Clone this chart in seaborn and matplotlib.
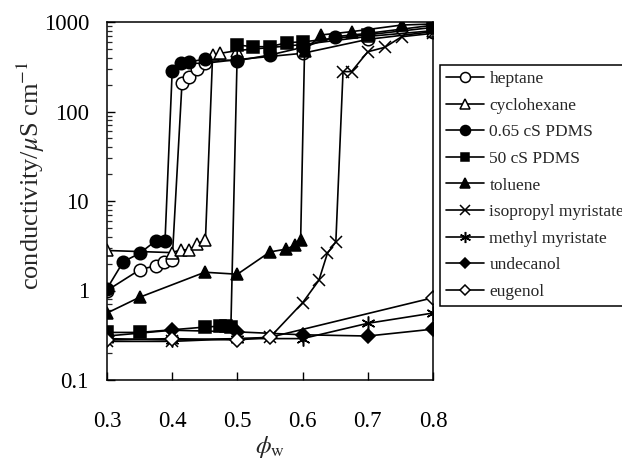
import matplotlib
matplotlib.use("Agg")
import matplotlib.pyplot as plt
import seaborn as sns
from matplotlib.ticker import LogLocator, FixedLocator, FuncFormatter, NullFormatter

sns.set_style("ticks")
plt.rcParams['font.family'] = ['Liberation Serif', 'DejaVu Serif']
plt.rcParams['mathtext.fontset'] = 'stix'

# ---- data ----
heptane_x = [0.30, 0.35, 0.375, 0.388, 0.40, 0.415, 0.426, 0.438, 0.45, 0.50, 0.60, 0.70, 0.80]
heptane_y = [1.0, 1.7, 1.9, 2.1, 2.2, 207, 240, 295, 346, 380, 447, 640, 780]

cyclohexane_x = [0.30, 0.40, 0.413, 0.426, 0.438, 0.451, 0.462, 0.474, 0.50, 0.60, 0.70, 0.80]
cyclohexane_y = [2.8, 2.65, 2.85, 2.85, 3.3, 3.7, 428, 447, 480, 560, 690, 800]

pdms065_x = [0.30, 0.325, 0.35, 0.375, 0.389, 0.40, 0.413, 0.426, 0.45, 0.50, 0.55, 0.60, 0.65, 0.70, 0.80]
pdms065_y = [1.05, 2.1, 2.6, 3.6, 3.6, 286, 346, 360, 383, 370, 428, 520, 685, 747, 920]

pdms50_x = [0.30, 0.35, 0.45, 0.474, 0.483, 0.49, 0.50, 0.524, 0.55, 0.576, 0.60, 0.70, 0.80]
pdms50_y = [0.34, 0.34, 0.39, 0.40, 0.40, 0.39, 553, 530, 530, 588, 600, 720, 870]

toluene_x = [0.30, 0.35, 0.45, 0.50, 0.55, 0.575, 0.588, 0.597, 0.603, 0.628, 0.675, 0.752, 0.80]
toluene_y = [0.56, 0.84, 1.6, 1.52, 2.7, 2.9, 3.2, 3.7, 480, 716, 780, 925, 950]

ipm_x = [0.30, 0.40, 0.55, 0.60, 0.625, 0.638, 0.651, 0.662, 0.675, 0.70, 0.726, 0.752, 0.80]
ipm_y = [0.27, 0.27, 0.30, 0.73, 1.3, 2.6, 3.5, 279, 279, 465, 521, 685, 747]

methyl_x = [0.30, 0.40, 0.50, 0.60, 0.70, 0.80]
methyl_y = [0.29, 0.28, 0.29, 0.29, 0.43, 0.56]

undecanol_x = [0.30, 0.40, 0.50, 0.60, 0.70, 0.80]
undecanol_y = [0.31, 0.36, 0.345, 0.32, 0.31, 0.37]

eugenol_x = [0.30, 0.40, 0.50, 0.55, 0.80]
eugenol_y = [0.28, 0.29, 0.28, 0.30, 0.83]

labels = ["heptane", "cyclohexane", "0.65 cS PDMS", "50 cS PDMS", "toluene",
          "isopropyl myristate", "methyl myristate", "undecanol", "eugenol"]
xs = [heptane_x, cyclohexane_x, pdms065_x, pdms50_x, toluene_x, ipm_x, methyl_x, undecanol_x, eugenol_x]
ys = [heptane_y, cyclohexane_y, pdms065_y, pdms50_y, toluene_y, ipm_y, methyl_y, undecanol_y, eugenol_y]
markers = ["o", "^", "o", "s", "^", "x", (6, 2, 0), "D", "D"]
faces = ["white", "white", "black", "black", "black", "black", "black", "black", "white"]
sizes = [9, 9, 9, 8, 9, 9, 10, 7, 7]

fig = plt.figure(figsize=(6.22, 4.58), dpi=100)
ax = fig.add_axes([107/622, 1-380/458, 326/622, 358/458])

for lab, x, y, m, fc, ms in zip(labels, xs, ys, markers, faces, sizes):
    sns.lineplot(x=x, y=y, ax=ax, color="black", linewidth=1.2, marker=m,
                 markersize=ms, markerfacecolor=fc, markeredgecolor="black",
                 markeredgewidth=1.1, label=lab, estimator=None, sort=False)

ax.set_yscale("log")
ax.set_xlim(0.3, 0.8)
ax.set_ylim(0.1, 1000)
ax.xaxis.set_major_locator(FixedLocator([0.3, 0.4, 0.5, 0.6, 0.7, 0.8]))
ax.xaxis.set_major_formatter(FuncFormatter(lambda v, p: f"{v:.1f}"))
ax.yaxis.set_major_locator(FixedLocator([0.1, 1, 10, 100, 1000]))
ax.yaxis.set_major_formatter(FuncFormatter(lambda v, p: f"{v:g}"))
ax.yaxis.set_minor_locator(LogLocator(base=10, subs=range(2, 10), numticks=20))
ax.yaxis.set_minor_formatter(NullFormatter())

ax.tick_params(axis="both", which="major", direction="in", length=6, width=1.0,
               labelsize=16.5, colors="black")
ax.tick_params(axis="x", which="major", pad=22)
ax.tick_params(axis="y", which="major", pad=13)
ax.tick_params(axis="y", which="minor", direction="in", length=3.5, width=0.9)
ax.tick_params(top=False, right=False)
for s in ax.spines.values():
    s.set_linewidth(1.1)
    s.set_color("black")

ax.set_xlabel(r"$\phi_{\mathrm{w}}$", fontsize=18)
ax.xaxis.set_label_coords(0.5, -0.15)
ax.set_ylabel(r"conductivity/$\mu$S cm$^{-1}$", fontsize=19)
ax.yaxis.set_label_coords(-0.185, 0.57)

leg = ax.legend(loc="upper left", bbox_to_anchor=(440/622, 1-65/458),
                bbox_transform=fig.transFigure, borderaxespad=0, fontsize=12.5,
                frameon=True, fancybox=False, edgecolor="black", framealpha=1,
                handlelength=2.2, handletextpad=0.3, borderpad=0.35,
                labelspacing=0.6, markerscale=0.8)
leg.get_frame().set_linewidth(1.1)

fig.savefig("out.png", dpi=100)
